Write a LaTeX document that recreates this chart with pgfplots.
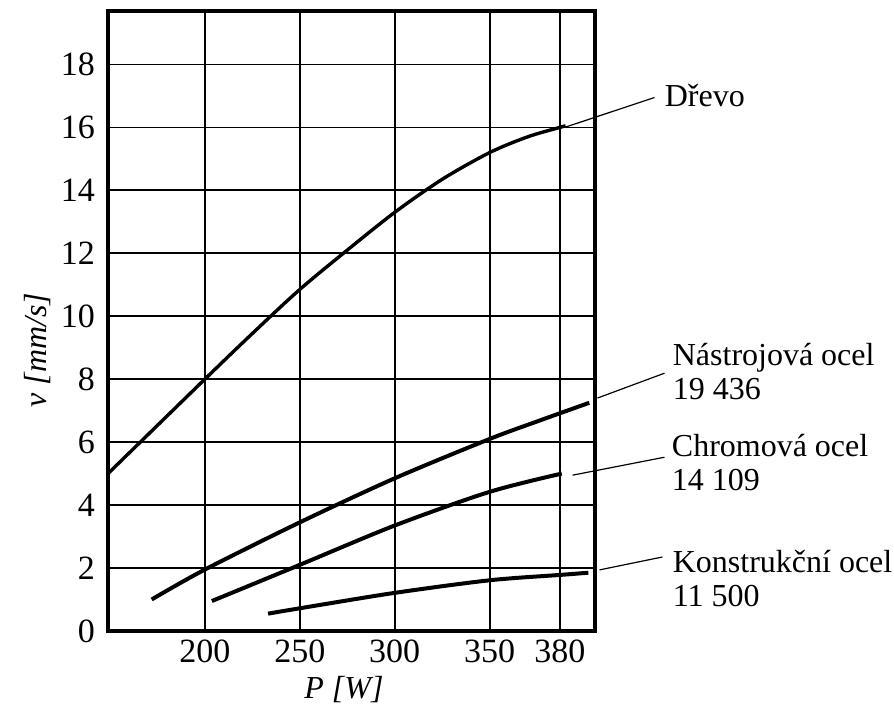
\documentclass[border=0pt]{standalone}
\usepackage{fontspec}
\setmainfont{Liberation Serif}
\newfontfamily\tnr{Liberation Serif}
\usepackage{pgfplots}
\pgfplotsset{compat=1.18}
\begin{document}
\begin{tikzpicture}[font=\tnr\fontsize{16}{17}\selectfont]
\begin{axis}[
  scale only axis, width=243.5pt, height=310pt,
  xmin=149, xmax=405.5, ymin=0, ymax=19.7,
  xtick={200,250,300,350,387}, xticklabels={200,250,300,350,380},
  ytick={0,2,...,18},
  grid=major, major grid style={black, line width=0.9pt},
  axis line style={black, line width=2.2pt},
  major tick length=0pt,
  /pgf/number format/assume math mode=true,
  ticklabel style={font=\tnr\fontsize{17}{18}\selectfont},
  yticklabel style={xshift=-3pt},
  xticklabel style={yshift=-1pt},
  clip=false,
]
% Drevo
\addplot[black, line width=1.7pt, smooth] coordinates {
(149,5.0) (166,6.0) (200,8.0) (225,9.45) (250,10.85) (275,12.1) (300,13.3)
(325,14.35) (350,15.2) (370,15.7) (387,16.0) (390,16.05)};
% Nastrojova ocel
\addplot[black, line width=2pt, smooth] coordinates {
(172,1.0) (200,1.95) (250,3.45) (300,4.85) (350,6.1) (377,6.7) (402.5,7.25)};
% Chromova ocel
\addplot[black, line width=2pt, smooth] coordinates {
(203.7,0.95) (250,2.1) (300,3.35) (350,4.42) (388,5.0)};
% Konstrukcni ocel
\addplot[black, line width=2pt, smooth] coordinates {
(233.3,0.55) (250,0.72) (300,1.21) (350,1.61) (387,1.78) (402,1.85)};

% leader lines
\draw[line width=0.6pt] (axis cs:389.5,16.0) -- (axis cs:436.8,16.95);
\draw[line width=0.6pt] (axis cs:406.8,7.4) -- (axis cs:442.1,8.19);
\draw[line width=0.6pt] (axis cs:393.7,4.95) -- (axis cs:442.1,5.52);
\draw[line width=0.6pt] (axis cs:407.9,1.94) -- (axis cs:441.0,2.35);

% labels
\node[anchor=west, inner sep=0pt] at (axis cs:442.1,17.0) {Dřevo};
\node[anchor=west, inner sep=0pt, align=left] at (axis cs:446.3,8.24) {Nástrojová ocel\\19 436};
\node[anchor=west, inner sep=0pt, align=left] at (axis cs:445.8,5.35) {Chromová ocel\\14 109};
\node[anchor=west, inner sep=0pt, align=left] at (axis cs:446.3,1.68) {Konstrukční ocel\\11 500};

% axis titles
\node[rotate=90] at (rel axis cs:-0.145,0.453) {\textit{v [mm/s]}};
\node at (rel axis cs:0.4846,-0.0952) {\textit{P [W]}};

\coordinate (BL) at (rel axis cs:-0.2218,-0.1323);
\coordinate (TR) at (rel axis cs:1.614,1.0177);
\end{axis}
\pgfresetboundingbox
\path[use as bounding box] (BL) rectangle (TR);
\end{tikzpicture}
\end{document}
